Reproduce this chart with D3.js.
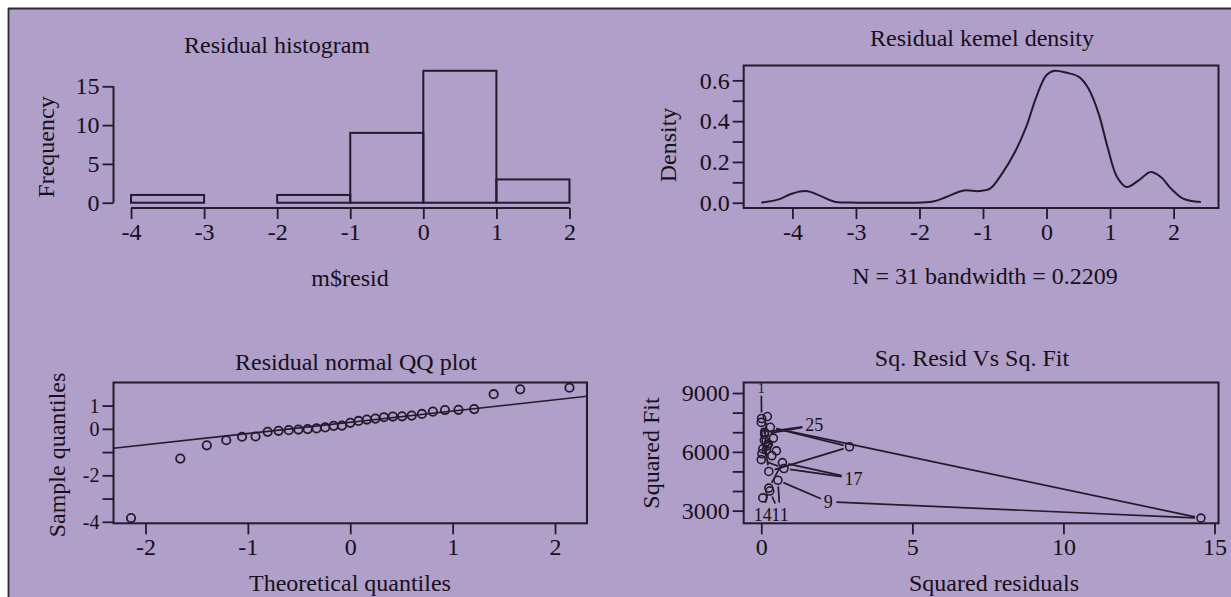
<!DOCTYPE html>
<html><head><meta charset="utf-8">
<script src="https://cdn.jsdelivr.net/npm/d3@7"></script>
<style>
html,body{margin:0;padding:0;background:#fff;}
svg{display:block;}
text{font-family:"Liberation Serif","Times New Roman",serif;fill:#15101a;}
</style></head><body>
<svg id="chart" width="1231" height="597"></svg>
<script>
// ---------------- data ----------------
// Panel 1: residual histogram
const histBreaks = [-4, -3, -2, -1, 0, 1, 2];
const histCounts = [1, 0, 1, 9, 17, 3];
const histXTicks = [-4, -3, -2, -1, 0, 1, 2];
const histYTicks = [0, 5, 10, 15];

// Panel 2: kernel density
const densityX = [-4.49, -4.23, -4.01, -3.79, -3.57, -3.35, -3.10, -2.6, -1.96, -1.77, -1.58, -1.30, -1.07, -0.89, -0.70, -0.51, -0.32, -0.16, 0.0, 0.13, 0.32, 0.51, 0.66, 0.82, 0.96, 1.11, 1.26, 1.45, 1.64, 1.80, 1.96, 2.15, 2.43];
const densityY = [0.001, 0.015, 0.044, 0.057, 0.035, 0.006, 0.0005, 0.0, 0.0005, 0.007, 0.028, 0.060, 0.057, 0.069, 0.143, 0.241, 0.372, 0.519, 0.626, 0.647, 0.637, 0.617, 0.560, 0.437, 0.273, 0.126, 0.077, 0.110, 0.151, 0.126, 0.069, 0.020, 0.003];
const densityXTicks = [-4, -3, -2, -1, 0, 1, 2];
const densityYTicks = [0, 0.1, 0.2, 0.3, 0.4, 0.5, 0.6];
const densityYLabels = ["0.0", "", "0.2", "", "0.4", "", "0.6"];

// Panel 3: normal QQ plot
const qqTheoretical = [-2.141, -1.660, -1.401, -1.211, -1.057, -0.925, -0.807, -0.700, -0.600, -0.506, -0.416, -0.329, -0.245, -0.162, -0.081, 0.0, 0.081, 0.162, 0.245, 0.329, 0.416, 0.506, 0.600, 0.700, 0.807, 0.925, 1.057, 1.211, 1.401, 1.660, 2.141];
const qqSample = [-3.84, -1.28, -0.71, -0.49, -0.34, -0.33, -0.13, -0.085, -0.055, -0.03, -0.01, 0.02, 0.06, 0.13, 0.14, 0.26, 0.34, 0.40, 0.44, 0.50, 0.53, 0.54, 0.57, 0.64, 0.74, 0.81, 0.82, 0.85, 1.49, 1.70, 1.77];
const qqLineCoef = [0.283, 0.483]; // intercept, slope
const qqXTicks = [-2, -1, 0, 1, 2];
const qqYTicks = [-4, -3, -2, -1, 0, 1];
const qqYLabels = ["-4", "", "-2", "", "0", "1"];

// Panel 4: squared residuals vs squared fit (observations in order)
const sqObs = [1, 2, 3, 4, 5, 6, 7, 8, 9, 10, 11, 12, 13, 14, 15, 16, 17, 18, 19, 20, 21, 22, 23, 24, 25, 26, 27, 28, 29, 30, 31];
const sqResid = [0.00, 0.01, 0.20, 0.10, 0.25, 2.92, 0.30, 14.55, 2.22, 0.55, 0.62, 0.28, 0.05, 0.05, 0.25, 0.70, 3.05, 0.75, 0.00, 0.20, 0.02, 0.40, 0.17, 0.11, 1.75, 0.11, 0.50, 0.23, 0.00, 0.05, 0.35];
const sqFit = [9270, 7700, 7800, 6600, 5000, 6255, 7250, 2620, 3450, 4550, 2800, 4000, 3650, 2800, 4150, 5450, 4650, 5150, 5600, 6300, 5900, 6700, 6100, 7000, 7360, 6900, 6050, 6400, 7500, 6150, 5800];
const sqLabelled = [1, 9, 11, 14, 17, 25];
const sqXTicks = [0, 5, 10, 15];
const sqYTicks = [3000, 4000, 5000, 6000, 7000, 8000, 9000];
const sqYLabels = ["3000", "", "", "6000", "", "", "9000"];

// ---------------- drawing ----------------
const INK = "#231a2b";
const svg = d3.select("#chart");

svg.append("rect").attr("x", 9).attr("y", 9).attr("width", 1222).attr("height", 588).attr("fill", "#b09fc8");
svg.append("line").attr("x1", 8).attr("x2", 1231).attr("y1", 8.5).attr("y2", 8.5).attr("stroke", "#2e2a33").attr("stroke-width", 1.8);
svg.append("line").attr("x1", 8.5).attr("x2", 8.5).attr("y1", 8).attr("y2", 597).attr("stroke", "#2e2a33").attr("stroke-width", 1.8);

const pad = ext => { const s = ext[1] - ext[0]; return [ext[0] - 0.04 * s, ext[1] + 0.04 * s]; };
const colL = [113.5, 587], colR = [743.7, 1218.5];
const rowT = [208, 65.5], rowB = [523.3, 382.5];

function styleAxis(g, size) {
  g.attr("font-family", null).attr("font-size", null);
  g.selectAll(".domain").remove();
  g.selectAll(".tick line").attr("stroke", INK).attr("stroke-width", 1.8);
  g.selectAll(".tick text").style("font-size", (size || 24) + "px").attr("fill", "#15101a");
}
function leftAxis(scale, ticks, labels, x, size) {
  const g = svg.append("g").attr("transform", `translate(${x},0)`)
    .call(d3.axisLeft(scale).tickValues(ticks).tickFormat((d, i) => labels[i]).tickSize(11).tickPadding(3));
  styleAxis(g, size);
  return g;
}
function bottomAxis(scale, ticks, y) {
  const g = svg.append("g").attr("transform", `translate(0,${y})`)
    .call(d3.axisBottom(scale).tickValues(ticks).tickFormat(d => String(d)).tickSize(11).tickPadding(4));
  styleAxis(g);
  return g;
}
function box(xr, yr) {
  svg.append("rect").attr("x", xr[0]).attr("y", yr[1]).attr("width", xr[1] - xr[0]).attr("height", yr[0] - yr[1])
    .attr("fill", "none").attr("stroke", INK).attr("stroke-width", 2);
}
function label(txt, x, y, opts = {}) {
  const t = svg.append("text").attr("x", x).attr("y", y).attr("dy", "0.35em")
    .attr("text-anchor", "middle").style("font-size", (opts.size || 24) + "px").text(txt);
  if (opts.rot) t.attr("transform", `rotate(-90,${x},${y})`);
  return t;
}

// ---- Panel 1: histogram ----
{
  const x = d3.scaleLinear().domain(pad([histBreaks[0], histBreaks[histBreaks.length - 1]])).range(colL);
  const y = d3.scaleLinear().domain(pad([0, d3.max(histCounts)])).range(rowT);
  svg.append("g").selectAll("rect").data(histCounts).join("rect")
    .attr("x", (d, i) => x(histBreaks[i])).attr("width", (d, i) => x(histBreaks[i + 1]) - x(histBreaks[i]))
    .attr("y", d => y(d)).attr("height", d => y(0) - y(d))
    .attr("fill", "none").attr("stroke", INK).attr("stroke-width", 2);
  leftAxis(y, histYTicks, histYTicks.map(String), colL[0]);
  svg.append("line").attr("x1", colL[0]).attr("x2", colL[0]).attr("y1", y(histYTicks[0])).attr("y2", y(histYTicks[histYTicks.length - 1]))
    .attr("stroke", INK).attr("stroke-width", 2);
  bottomAxis(x, histXTicks, rowT[0]);
  svg.append("line").attr("x1", x(histXTicks[0])).attr("x2", x(histXTicks[histXTicks.length - 1])).attr("y1", rowT[0]).attr("y2", rowT[0])
    .attr("stroke", INK).attr("stroke-width", 2);
  label("Residual histogram", 277, 45);
  label("m$resid", 350, 278);
  label("Frequency", 46, 147, { rot: true });
}

// ---- Panel 2: density ----
{
  const x = d3.scaleLinear().domain(pad(d3.extent(densityX))).range(colR);
  const y = d3.scaleLinear().domain(pad([0, d3.max(densityY)])).range(rowT);
  svg.append("path").datum(densityX.map((d, i) => [d, densityY[i]]))
    .attr("d", d3.line().x(d => x(d[0])).y(d => y(d[1])).curve(d3.curveCatmullRom.alpha(0.5)))
    .attr("fill", "none").attr("stroke", INK).attr("stroke-width", 2);
  leftAxis(y, densityYTicks, densityYLabels, colR[0]);
  bottomAxis(x, densityXTicks, rowT[0]);
  box(colR, rowT);
  label("Residual kemel density", 982, 38);
  label("N = 31 bandwidth = 0.2209", 985, 276);
  label("Density", 668, 145, { rot: true });
}

// ---- Panel 3: QQ plot ----
{
  const x = d3.scaleLinear().domain(pad(d3.extent(qqTheoretical))).range(colL);
  const y = d3.scaleLinear().domain(pad(d3.extent(qqSample))).range(rowB);
  const [b0, b1] = qqLineCoef;
  const xd = x.domain();
  svg.append("defs").append("clipPath").attr("id", "qqclip").append("rect")
    .attr("x", colL[0]).attr("y", rowB[1]).attr("width", colL[1] - colL[0]).attr("height", rowB[0] - rowB[1]);
  svg.append("line").attr("clip-path", "url(#qqclip)")
    .attr("x1", x(xd[0])).attr("y1", y(b0 + b1 * xd[0])).attr("x2", x(xd[1])).attr("y2", y(b0 + b1 * xd[1]))
    .attr("stroke", INK).attr("stroke-width", 1.6);
  svg.append("g").selectAll("circle").data(qqSample).join("circle")
    .attr("cx", (d, i) => x(qqTheoretical[i])).attr("cy", d => y(d)).attr("r", 4.2)
    .attr("fill", "none").attr("stroke", INK).attr("stroke-width", 1.8);
  leftAxis(y, qqYTicks, qqYLabels, colL[0], 20);
  bottomAxis(x, qqXTicks, rowB[0]);
  box(colL, rowB);
  label("Residual normal QQ plot", 356, 362);
  label("Theoretical quantiles", 350, 583);
  label("Sample quantiles", 57, 455, { rot: true });
}

// ---- Panel 4: squared residuals vs squared fit ----
{
  const x = d3.scaleLinear().domain(pad(d3.extent(sqResid))).range(colR);
  const y = d3.scaleLinear().domain(pad(d3.extent(sqFit))).range(rowB);
  const pts = sqObs.map((o, i) => ({ o, px: x(sqResid[i]), py: y(sqFit[i]), big: sqLabelled.includes(o) }));
  const gap = p => p.big ? (String(p.o).length > 1 ? 12 : 8) : 6;
  const segs = [];
  for (let i = 0; i < pts.length - 1; i++) {
    const a = pts[i], b = pts[i + 1];
    const dx = b.px - a.px, dy = b.py - a.py, len = Math.hypot(dx, dy);
    const ga = gap(a), gb = gap(b);
    if (len <= ga + gb) continue;
    segs.push({ x1: a.px + dx * ga / len, y1: a.py + dy * ga / len, x2: b.px - dx * gb / len, y2: b.py - dy * gb / len });
  }
  svg.append("g").selectAll("line").data(segs).join("line")
    .attr("x1", d => d.x1).attr("y1", d => d.y1).attr("x2", d => d.x2).attr("y2", d => d.y2)
    .attr("stroke", INK).attr("stroke-width", 1.7);
  svg.append("g").selectAll("circle").data(pts.filter(p => !p.big)).join("circle")
    .attr("cx", d => d.px).attr("cy", d => d.py).attr("r", 4)
    .attr("fill", "none").attr("stroke", INK).attr("stroke-width", 1.6);
  svg.append("g").selectAll("text").data(pts.filter(p => p.big)).join("text")
    .attr("x", d => d.px).attr("y", d => d.py).attr("dy", "0.35em").attr("text-anchor", "middle")
    .style("font-size", d => d.o === 1 ? "14px" : "18px")
    .text(d => String(d.o));
  leftAxis(y, sqYTicks, sqYLabels, colR[0]);
  bottomAxis(x, sqXTicks, rowB[0]);
  box(colR, rowB);
  label("Sq. Resid Vs Sq. Fit", 972, 358);
  label("Squared residuals", 994, 583);
  label("Squared Fit", 651, 453, { rot: true });
}
</script>
</body></html>
